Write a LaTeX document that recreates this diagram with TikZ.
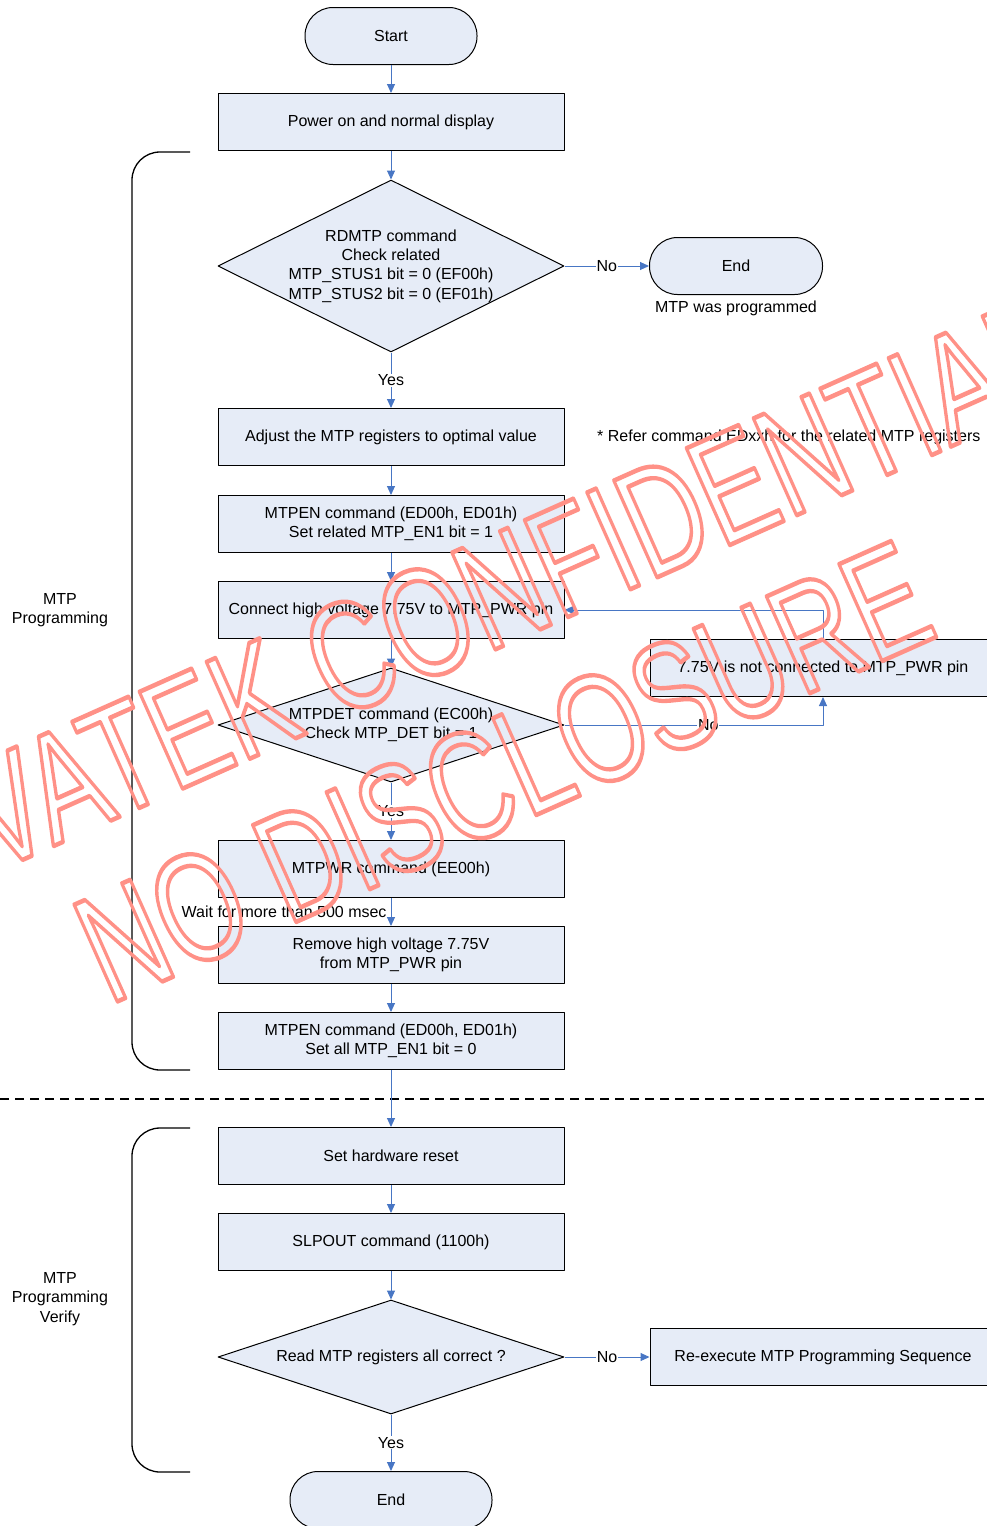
\documentclass[tikz,border=0pt]{standalone}
\usepackage{fontspec}
\setmainfont{Liberation Sans}
\usetikzlibrary{shapes.geometric,arrows.meta}
\definecolor{boxfill}{RGB}{230,236,247}
\definecolor{linkblue}{RGB}{72,118,196}
\definecolor{stampred}{RGB}{255,145,135}
% hollow (stroked) glyphs for the watermark
\newcommand{\hollow}[1]{\special{pdf:literal direct q 1 Tr 3.2 w}#1\special{pdf:literal direct Q}}
\tikzset{
  procbox/.style={draw=black,fill=boxfill,line width=1pt,minimum width=346pt,
    minimum height=57pt,align=center},
  decision/.style={diamond,draw=black,fill=boxfill,line width=1pt,
    minimum width=346pt,inner sep=0pt},
  terminal/.style={draw=black,fill=boxfill,line width=1pt,rounded corners=28pt,
    minimum height=57pt},
  flowarrow/.style={->,draw=linkblue,line width=1pt},
  yesno/.style={fill=white,inner sep=1pt},
}
\begin{document}
\begin{tikzpicture}[x=1pt,y=-1pt,>={Triangle[length=9pt,width=8pt]},
    font=\fontsize{16}{19.3}\selectfont,line join=round]
  \useasboundingbox (0,0) rectangle (986,1526);
  % Programming part
  \node[terminal,minimum width=172pt] (start) at (391,36) {Start};
  \node[procbox] (power) at (391,122) {Power on and normal display};
  \node[decision,minimum height=172pt,label={[align=center]center:{RDMTP command\\
    Check related\\MTP\_STUS1 bit = 0 (EF00h)\\MTP\_STUS2 bit = 0 (EF01h)}}] (rdmtp) at (391,266) {};
  \node[terminal,minimum width=173pt] (end1) at (736,266) {End};
  \node (prog) at (736,308) {MTP was programmed};
  \node[procbox] (adjust) at (391,437) {Adjust the MTP registers to optimal value};
  \node[anchor=west,inner sep=0pt] (refer) at (597,437)
    {* Refer command EDxxh for the related MTP registers};
  \node[procbox] (mtpen1) at (391,524) {MTPEN command (ED00h, ED01h)\\Set related MTP\_EN1 bit = 1};
  \node[procbox] (connect) at (391,610) {Connect high voltage 7.75V to MTP\_PWR pin};
  \node[decision,minimum height=114pt,label={[align=center]center:{MTPDET command (EC00h)\\
    Check MTP\_DET bit = 1}}] (mtpdet) at (391,725) {};
  \node[procbox] (notcon) at (823,668) {7.75V is not connected to MTP\_PWR pin};
  \node[procbox] (mtpwr) at (391,869) {MTPWR command (EE00h)};
  \node[procbox] (remove) at (391,955) {Remove high voltage 7.75V\\from MTP\_PWR pin};
  \node[procbox] (mtpen0) at (391,1041) {MTPEN command (ED00h, ED01h)\\Set all MTP\_EN1 bit = 0};
  % Verify part
  \node[procbox] (hwreset) at (391,1156) {Set hardware reset};
  \node[procbox] (slpout) at (391,1242) {SLPOUT command (1100h)};
  \node[decision,minimum height=114pt,label={[align=center]center:{Read MTP registers all correct ?}}]
    (verify) at (391,1357) {};
  \node[procbox] (reexec) at (823,1357) {Re-execute MTP Programming Sequence};
  \node[terminal,minimum width=202pt] (end2) at (391,1500) {End};
  \node[align=center] (grpprog) at (60,610) {MTP\\Programming};
  \node[align=center] (grpverify) at (60,1299) {MTP\\Programming\\Verify};
  % group brackets and the separator
  \draw[line width=1.3pt,rounded corners=28pt] (190,152) -| (132,611) |- (190,1070);
  \draw[line width=1.3pt,rounded corners=28pt] (190,1128) -| (132,1300) |- (190,1472);
  \draw[line width=1.6pt,dash pattern=on 9pt off 6pt] (0,1099) -- (986,1099);
  % connectors
  \draw[flowarrow] (start) -- (power);
  \draw[flowarrow] (power) -- (rdmtp);
  \draw[flowarrow] (rdmtp) -- node[yesno] {No} (end1);
  \draw[flowarrow] (rdmtp) -- node[yesno] {Yes} (adjust);
  \draw[flowarrow] (adjust) -- (mtpen1);
  \draw[flowarrow] (mtpen1) -- (connect);
  \draw[flowarrow] (connect) -- (mtpdet);
  \draw[flowarrow] (mtpdet.east) -| node[yesno,pos=0.278] {No} (notcon.south);
  \draw[flowarrow] (notcon.north) |- (connect.east);
  \draw[flowarrow] (mtpdet) -- node[yesno] {Yes} (mtpwr);
  \draw[flowarrow] (mtpwr) -- node[left,inner sep=4pt] {Wait for more than 500 msec} (remove);
  \draw[flowarrow] (remove) -- (mtpen0);
  \draw[flowarrow] (mtpen0) -- (hwreset);
  \draw[flowarrow] (hwreset) -- (slpout);
  \draw[flowarrow] (slpout) -- (verify);
  \draw[flowarrow] (verify) -- node[yesno] {No} (reexec);
  \draw[flowarrow] (verify) -- node[yesno] {Yes} (end2);
  % watermark
  \node[text=stampred,font=\fontsize{110}{110}\selectfont,rotate=24,anchor=base]
    (stamp1) at (458,666) {\hollow{\scalebox{1}[1.4]{NOVATEK CONFIDENTIAL}}};
  \node[text=stampred,font=\fontsize{110}{110}\selectfont,rotate=24,anchor=base]
    (stamp2) at (525,820) {\hollow{\scalebox{1}[1.4]{NO DISCLOSURE}}};
\end{tikzpicture}
\end{document}
